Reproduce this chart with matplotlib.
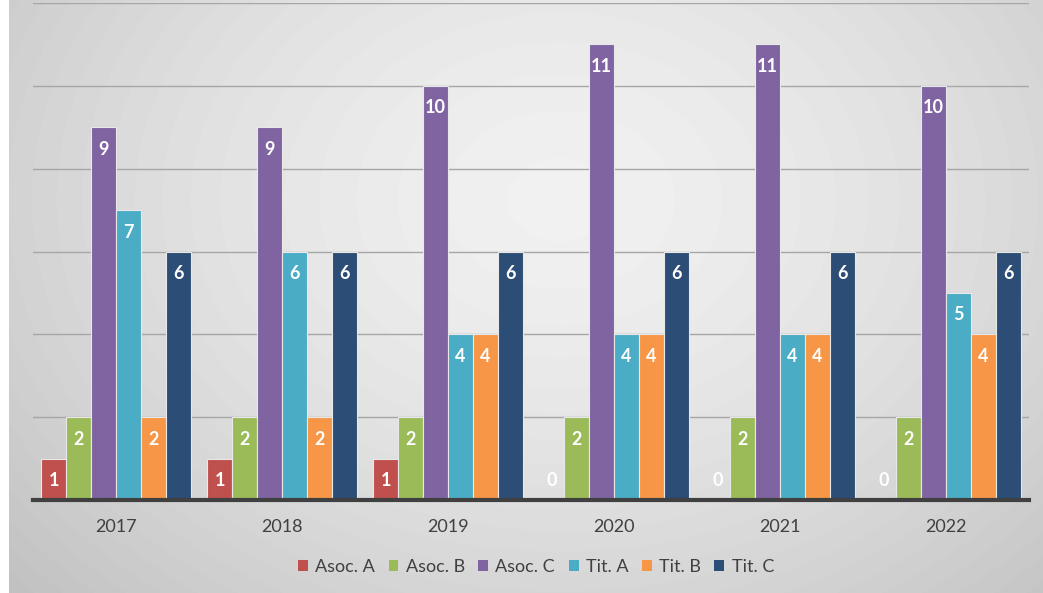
import numpy as np
import matplotlib.pyplot as plt
from matplotlib.patches import Patch

years = ['2017', '2018', '2019', '2020', '2021', '2022']
series = ['Asoc. A', 'Asoc. B', 'Asoc. C', 'Tit. A', 'Tit. B', 'Tit. C']
asoc_a = [1, 1, 1, 0, 0, 0]
asoc_b = [2, 2, 2, 2, 2, 2]
asoc_c = [9, 9, 10, 11, 11, 10]
tit_a = [7, 6, 4, 4, 4, 5]
tit_b = [2, 2, 4, 4, 4, 4]
tit_c = [6, 6, 6, 6, 6, 6]
colors = ['#c0504d', '#9bbb59', '#8064a2', '#4bacc6', '#f79646', '#2c4d75']

plt.rcParams['font.family'] = ['Lato', 'DejaVu Sans']

fig = plt.figure(figsize=(10.43, 5.93), dpi=100, facecolor='white')

# radial gray background, chart area starts a few px in from the left
bg = fig.add_axes([9 / 1043, 0, 1034 / 1043, 1], zorder=-10)
yy, xx = np.mgrid[0:593, 9:1043]
r = np.sqrt(((xx - 560) / 720.0) ** 2 + ((yy - 200) / 560.0) ** 2)
shade = 0.945 - 0.18 * np.clip(r, 0, 1.3) ** 1.5
bg.imshow(shade, cmap='gray', vmin=0, vmax=1, aspect='auto')
bg.axis('off')

ax = fig.add_axes([33 / 1043, 93 / 593, 996 / 1043, 497 / 593])
ax.patch.set_alpha(0)

data = [asoc_a, asoc_b, asoc_c, tit_a, tit_b, tit_c]
x = np.arange(len(years))
w = 0.9 / 6
for i, (vals, c) in enumerate(zip(data, colors)):
    pos = x - 0.45 + w * (i + 0.5)
    ax.bar(pos, vals, width=w, color=c, edgecolor='#e8e8e8', linewidth=0.8, zorder=3)
    for px, v in zip(pos, vals):
        off = -22 if v > 0 else 20
        ax.annotate(str(v), (px, v), xytext=(0, off), textcoords='offset pixels',
                    ha='center', va='center', color='white', fontsize=13,
                    fontweight='bold', zorder=5)

ax.set_xlim(-0.5, 5.5)
ax.set_ylim(0, 12)
ax.set_yticks(np.arange(2, 13, 2))
ax.yaxis.grid(True, color='#a6a6a6', linewidth=1, zorder=0)
ax.tick_params(axis='y', left=False, labelleft=False)
ax.set_xticks(x)
ax.set_xticklabels(years, fontsize=13, color='#404040')
ax.tick_params(axis='x', length=0, pad=14)
for s in ['top', 'right', 'left']:
    ax.spines[s].set_visible(False)
ax.spines['bottom'].set_color('#404040')
ax.spines['bottom'].set_linewidth(3)
ax.spines['bottom'].set_zorder(6)

handles = [Patch(facecolor=c, edgecolor='none') for c in colors]
fig.legend(handles, series, loc='center', bbox_to_anchor=(536 / 1043, 1 - 567 / 593),
           ncol=6, frameon=False, fontsize=13, labelcolor='#404040',
           handlelength=0.55, handleheight=0.55, handletextpad=0.4, columnspacing=0.75)

fig.savefig('out.png', dpi=100)
